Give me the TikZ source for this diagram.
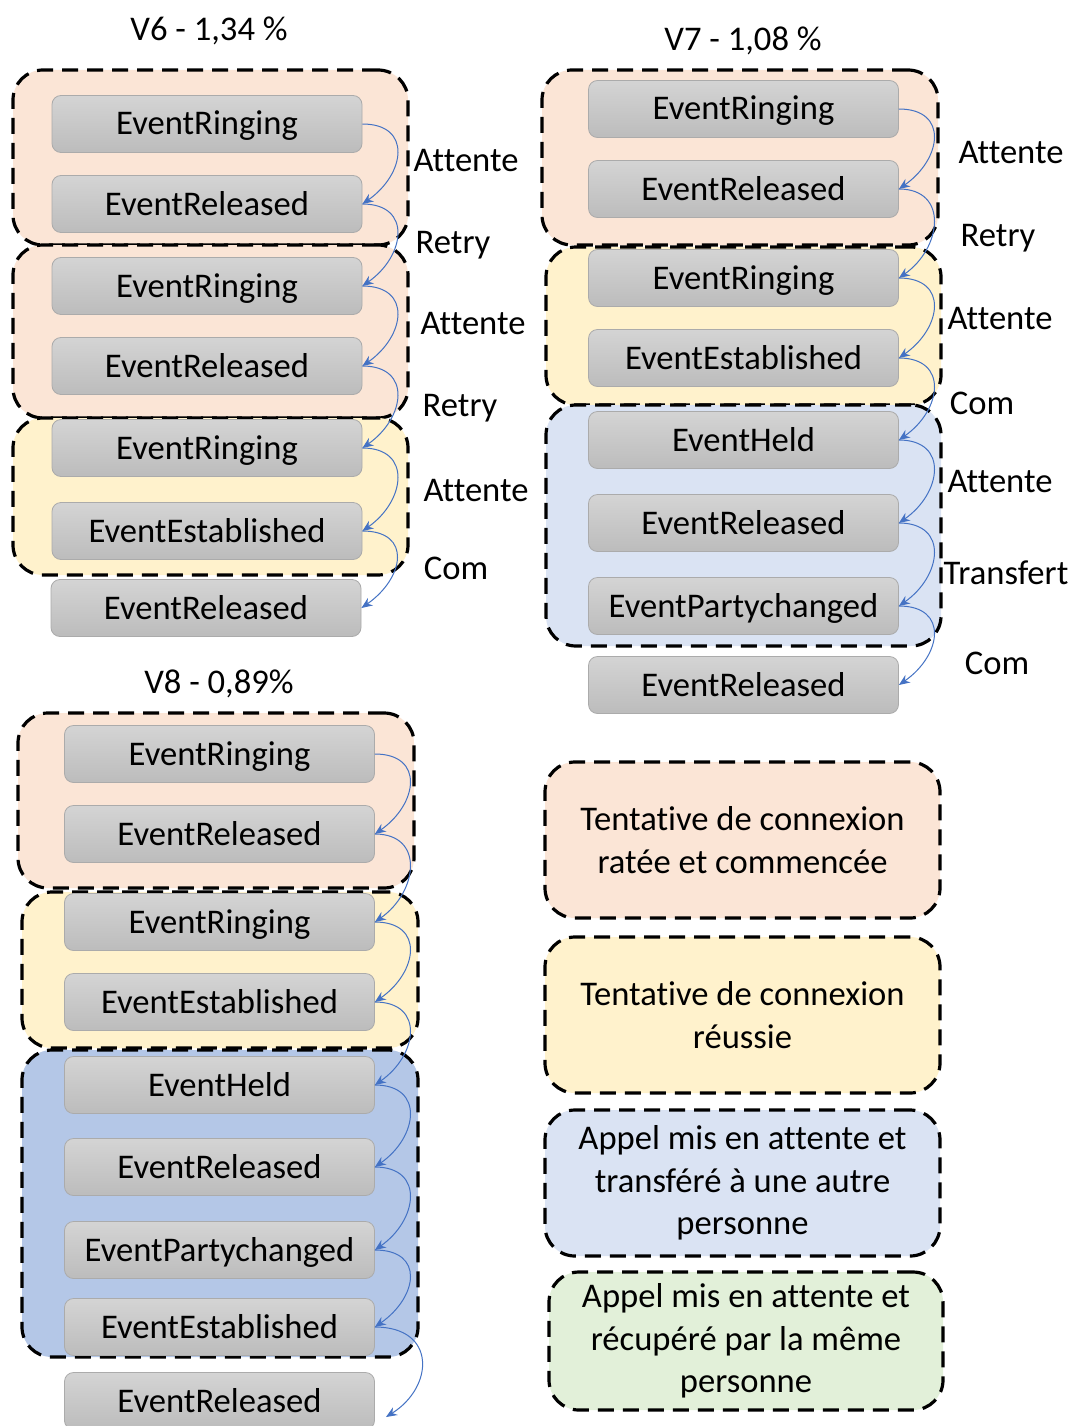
\documentclass[tikz,border=0pt]{standalone}
\usepackage{fontspec}
\setmainfont{Carlito}[Ligatures=NoCommon]
\usetikzlibrary{arrows.meta}
\definecolor{pinkc}{HTML}{FBE5D6}
\definecolor{yellowc}{HTML}{FFF2CC}
\definecolor{lbluec}{HTML}{DAE3F3}
\definecolor{dbluec}{HTML}{B4C7E7}
\definecolor{greenc}{HTML}{E2F0D9}
\definecolor{arrowc}{HTML}{4472C4}
\definecolor{evtop}{HTML}{D4D4D4}
\definecolor{evbot}{HTML}{BCBCBC}
\definecolor{evline}{HTML}{ABABAB}
\begin{document}
\begin{tikzpicture}[x=1pt,y=-1pt,
  font=\fontsize{34.6}{42.5}\selectfont,
  grp/.style={draw=black, line width=3.2pt, dash pattern=on 16pt off 9pt,
    rounded corners=30pt, inner sep=0pt, align=center},
  evt/.style={draw=evline, line width=0.8pt, rounded corners=9pt,
    top color=evtop, bottom color=evbot, minimum width=310pt,
    minimum height=57pt, inner sep=0pt, text height=22pt, text depth=0pt},
  flow/.style={draw=arrowc, line width=1pt, -{Stealth[length=11pt,width=9pt]}},
  lbl/.style={anchor=base, inner sep=0pt}]
\useasboundingbox (0,0) rectangle (1072,1426);
\fill[white] (0,0) rectangle (1072,1426);

% ---------------- groups ----------------
\node[grp, fill=pinkc,   minimum width=395pt, minimum height=175pt] (g61) at (210.5,157.5) {};
\node[grp, fill=pinkc,   minimum width=395pt, minimum height=173pt] (g62) at (210.5,331.5) {};
\node[grp, fill=yellowc, minimum width=395pt, minimum height=157pt] (g63) at (210.5,496.5) {};

\node[grp, fill=pinkc,   minimum width=396pt, minimum height=175pt] (g71) at (740,157.5) {};
\node[grp, fill=yellowc, minimum width=395pt, minimum height=158pt] (g72) at (743.5,326) {};
\node[grp, fill=lbluec,  minimum width=395pt, minimum height=241pt] (g73) at (743.5,525.5) {};

\node[grp, fill=pinkc,   minimum width=396pt, minimum height=175pt] (g81) at (216,800.5) {};
\node[grp, fill=yellowc, minimum width=396pt, minimum height=156pt] (g82) at (220,970) {};
\node[grp, fill=dbluec,  minimum width=396pt, minimum height=307pt] (g83) at (220,1203.5) {};

% ---------------- titles ----------------
\node[lbl] (t6) at (209,41) {V6 - 1,34 \%};
\node[lbl] (t7) at (743,51) {V7 - 1,08 \%};
\node[lbl] (t8) at (219,693) {V8 - 0,89\%};

% ---------------- V6 events ----------------
\node[evt] (a1) at (207,124) {EventRinging};
\node[evt] (a2) at (207,204) {EventReleased};
\node[evt] (a3) at (207,286) {EventRinging};
\node[evt] (a4) at (207,366) {EventReleased};
\node[evt] (a5) at (207,448) {EventRinging};
\node[evt] (a6) at (207,531) {EventEstablished};
\node[evt] (a7) at (206,608) {EventReleased};

% ---------------- V7 events ----------------
\node[evt] (b1) at (743.5,109) {EventRinging};
\node[evt] (b2) at (743.5,189) {EventReleased};
\node[evt] (b3) at (743.5,278) {EventRinging};
\node[evt] (b4) at (743.5,358) {EventEstablished};
\node[evt] (b5) at (743.5,440) {EventHeld};
\node[evt] (b6) at (743.5,523) {EventReleased};
\node[evt] (b7) at (743.5,606) {EventPartychanged};
\node[evt] (b8) at (743.5,685) {EventReleased};

% ---------------- V8 events ----------------
\node[evt] (c1) at (219.5,754) {EventRinging};
\node[evt] (c2) at (219.5,834) {EventReleased};
\node[evt] (c3) at (219.5,922) {EventRinging};
\node[evt] (c4) at (219.5,1002) {EventEstablished};
\node[evt] (c5) at (219.5,1085) {EventHeld};
\node[evt] (c6) at (219.5,1167) {EventReleased};
\node[evt] (c7) at (219.5,1250) {EventPartychanged};
\node[evt] (c8) at (219.5,1327) {EventEstablished};
\node[evt] (c9) at (219.5,1401) {EventReleased};
\coordinate (c9end) at (386,1417);

% ---------------- labels ----------------
\node[lbl] (la1) at (466,171) {Attente};
\node[lbl] (la2) at (453,253) {Retry};
\node[lbl] (la3) at (473,334) {Attente};
\node[lbl] (la4) at (460,416) {Retry};
\node[lbl] (la5) at (476,501) {Attente};
\node[lbl] (la6) at (456,579) {Com};

\node[lbl] (lb1) at (1011,163) {Attente};
\node[lbl] (lb2) at (998,246) {Retry};
\node[lbl] (lb3) at (1000,329) {Attente};
\node[lbl] (lb4) at (982,414) {Com};
\node[lbl] (lb5) at (1000,492) {Attente};
\node[lbl] (lb6) at (1006,584) {Transfert};
\node[lbl] (lb7) at (997,674) {Com};

% ---------------- legend ----------------
\node[grp, fill=pinkc,   minimum width=395pt, minimum height=156pt] (l1) at (742.5,840) {Tentative de connexion\\ratée et commencée};
\node[grp, fill=yellowc, minimum width=395pt, minimum height=156pt] (l2) at (742.5,1015) {Tentative de connexion\\réussie};
\node[grp, fill=lbluec,  minimum width=395pt, minimum height=146pt] (l3) at (742.5,1183) {Appel mis en attente et\\transféré à une autre\\personne};
\node[grp, fill=greenc,  minimum width=394pt, minimum height=138pt] (l4) at (746,1341) {Appel mis en attente et\\récupéré par la même\\personne};

% ---------------- arrows ----------------
\foreach \s/\t in {a1/a2,a2/a3,a3/a4,a4/a5,a5/a6,a6/a7,
                   b1/b2,b2/b3,b3/b4,b4/b5,b5/b6,b6/b7,b7/b8,
                   c1/c2,c2/c3,c3/c4,c4/c5,c5/c6,c6/c7,c7/c8}
  \draw[flow] (\s.east) .. controls +(50,0) and +(43,-30) .. (\t.east);
\draw[flow] (c8.east) .. controls +(62,0) and +(48,-30) .. (c9end);
\end{tikzpicture}
\end{document}
